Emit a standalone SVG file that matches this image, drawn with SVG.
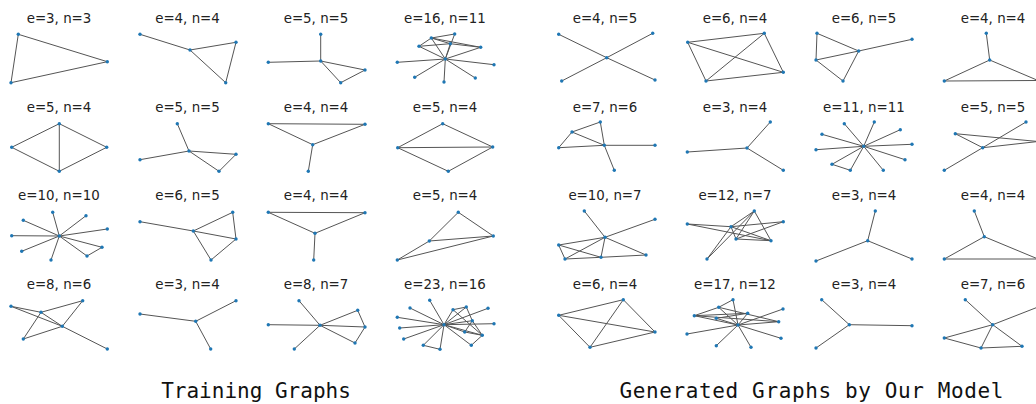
<svg xmlns="http://www.w3.org/2000/svg" width="1036" height="404" viewBox="0 0 1036 404">
<style>
.t{font-family:"DejaVu Sans",sans-serif;font-size:13.4px;fill:#222;text-anchor:middle}
.h{font-family:"DejaVu Sans Mono",monospace;font-size:21px;fill:#111;text-anchor:middle}
.e{fill:none;stroke:#555;stroke-width:1}
.n circle{fill:#1f77b4}
</style>
<rect width="1036" height="404" fill="#fff"/>

<g id="a1"><text class="t" x="59" y="23">e=3, n=3</text>
<g class="edges"><path class="e" d="M18.3,34.3L107.3,61.7M107.3,61.7L11,82.7M11,82.7L18.3,34.3"/></g>
<g class="n"><circle cx="18.3" cy="34.3" r="1.7"/><circle cx="107.3" cy="61.7" r="1.7"/><circle cx="11" cy="82.7" r="1.7"/></g></g>

<g id="a2"><text class="t" x="187.5" y="23">e=4, n=4</text>
<g class="edges"><path class="e" d="M140,34.3L190,50M190,50L236,42.3M236,42.3L225.7,82.7M190,50L225.7,82.7"/></g>
<g class="n"><circle cx="140" cy="34.3" r="1.7"/><circle cx="190" cy="50" r="1.7"/><circle cx="236" cy="42.3" r="1.7"/><circle cx="225.7" cy="82.7" r="1.7"/></g></g>

<g id="a3"><text class="t" x="316" y="23">e=5, n=5</text>
<g class="edges"><path class="e" d="M320.7,34.3L320.7,61M268.3,62.3L320.7,61M320.7,61L365,70M320.7,61L340.7,82.7M365,70L340.7,82.7"/></g>
<g class="n"><circle cx="320.7" cy="34.3" r="1.7"/><circle cx="320.7" cy="61" r="1.7"/><circle cx="268.3" cy="62.3" r="1.7"/><circle cx="365" cy="70" r="1.7"/><circle cx="340.7" cy="82.7" r="1.7"/></g></g>

<g id="a4"><text class="t" x="445" y="23">e=16, n=11</text>
<g class="edges"><path class="e" d="M431.3,38L454.7,34M431.3,38L419,46.3M419,46.3L450.3,43.7M431.3,38L450.3,43.7M431.3,38L480.7,47.3M450.3,43.7L480.7,47.3M454.7,34L445.3,59M431.3,38L445.3,59M419,46.3L445.3,59M450.3,43.7L445.3,59M445.3,59L480.7,47.3M445.3,59L397.3,62.3M445.3,59L494,64.7M445.3,59L414.7,77.3M445.3,59L444,82M445.3,59L475.3,78"/></g>
<g class="n"><circle cx="454.7" cy="34" r="1.7"/><circle cx="431.3" cy="38" r="1.7"/><circle cx="450.3" cy="43.7" r="1.7"/><circle cx="419" cy="46.3" r="1.7"/><circle cx="480.7" cy="47.3" r="1.7"/><circle cx="445.3" cy="59" r="1.7"/><circle cx="397.3" cy="62.3" r="1.7"/><circle cx="494" cy="64.7" r="1.7"/><circle cx="414.7" cy="77.3" r="1.7"/><circle cx="444" cy="82" r="1.7"/><circle cx="475.3" cy="78" r="1.7"/></g></g>

<g id="b1"><text class="t" x="605" y="23">e=4, n=5</text>
<g class="edges"><path class="e" d="M606.7,57.7L558.7,34.3M606.7,57.7L652.7,33.3M606.7,57.7L561.7,81M606.7,57.7L655,80"/></g>
<g class="n"><circle cx="606.7" cy="57.7" r="1.7"/><circle cx="558.7" cy="34.3" r="1.7"/><circle cx="652.7" cy="33.3" r="1.7"/><circle cx="561.7" cy="81" r="1.7"/><circle cx="655" cy="80" r="1.7"/></g></g>

<g id="b2"><text class="t" x="735" y="23">e=6, n=4</text>
<g class="edges"><path class="e" d="M687.7,42.3L764.3,33.3M687.7,42.3L706,81M687.7,42.3L783.3,72.3M764.3,33.3L706,81M764.3,33.3L783.3,72.3M706,81L783.3,72.3"/></g>
<g class="n"><circle cx="687.7" cy="42.3" r="1.7"/><circle cx="764.3" cy="33.3" r="1.7"/><circle cx="706" cy="81" r="1.7"/><circle cx="783.3" cy="72.3" r="1.7"/></g></g>

<g id="b3"><text class="t" x="864" y="23">e=6, n=5</text>
<g class="edges"><path class="e" d="M817,33.3L816,60M817,33.3L858.7,51M858.7,51L912,39.3M816,60L858.7,51M816,60L843,81M843,81L858.7,51"/></g>
<g class="n"><circle cx="817" cy="33.3" r="1.7"/><circle cx="858.7" cy="51" r="1.7"/><circle cx="912" cy="39.3" r="1.7"/><circle cx="816" cy="60" r="1.7"/><circle cx="843" cy="81" r="1.7"/></g></g>

<g id="b4"><text class="t" x="993" y="23">e=4, n=4</text>
<g class="edges"><path class="e" d="M986.3,33.3L989.7,60M989.7,60L944.3,81M989.7,60L1038,80.5M944.3,81L1038,80.5"/></g>
<g class="n"><circle cx="986.3" cy="33.3" r="1.7"/><circle cx="989.7" cy="60" r="1.7"/><circle cx="944.3" cy="81" r="1.7"/><circle cx="1038" cy="80.5" r="1.7"/></g></g>

<g id="a5"><text class="t" x="59" y="111.5">e=5, n=4</text>
<g class="edges"><path class="e" d="M59.3,123.7L11.7,147.3M59.3,123.7L106.7,147.3M11.7,147.3L59.3,171.3M106.7,147.3L59.3,171.3M59.3,123.7L59.3,171.3"/></g>
<g class="n"><circle cx="59.3" cy="123.7" r="1.7"/><circle cx="11.7" cy="147.3" r="1.7"/><circle cx="106.7" cy="147.3" r="1.7"/><circle cx="59.3" cy="171.3" r="1.7"/></g></g>

<g id="a6"><text class="t" x="187.5" y="111.5">e=5, n=5</text>
<g class="edges"><path class="e" d="M177.3,123.7L189,151M140,159.7L189,151M189,151L236,154.3M189,151L219,171.3M236,154.3L219,171.3"/></g>
<g class="n"><circle cx="177.3" cy="123.7" r="1.7"/><circle cx="189" cy="151" r="1.7"/><circle cx="140" cy="159.7" r="1.7"/><circle cx="236" cy="154.3" r="1.7"/><circle cx="219" cy="171.3" r="1.7"/></g></g>

<g id="a7"><text class="t" x="316" y="111.5">e=4, n=4</text>
<g class="edges"><path class="e" d="M268.3,123.7L365,124.3M268.3,123.7L312.7,144.7M365,124.3L312.7,144.7M312.7,144.7L308.3,171.3"/></g>
<g class="n"><circle cx="268.3" cy="123.7" r="1.7"/><circle cx="365" cy="124.3" r="1.7"/><circle cx="312.7" cy="144.7" r="1.7"/><circle cx="308.3" cy="171.3" r="1.7"/></g></g>

<g id="a8"><text class="t" x="445" y="111.5">e=5, n=4</text>
<g class="edges"><path class="e" d="M442.7,123.7L397.7,147.7M442.7,123.7L492.7,147M397.7,147.7L492.7,147M397.7,147.7L448.3,171.3M492.7,147L448.3,171.3"/></g>
<g class="n"><circle cx="442.7" cy="123.7" r="1.7"/><circle cx="397.7" cy="147.7" r="1.7"/><circle cx="492.7" cy="147" r="1.7"/><circle cx="448.3" cy="171.3" r="1.7"/></g></g>

<g id="b5"><text class="t" x="605" y="111.5">e=7, n=6</text>
<g class="edges"><path class="e" d="M572,132L600.3,122M572,132L558.7,147.7M572,132L604.3,145.3M600.3,122L604.3,145.3M558.7,147.7L604.3,145.3M604.3,145.3L655,145.3M604.3,145.3L614.3,170.3"/></g>
<g class="n"><circle cx="600.3" cy="122" r="1.7"/><circle cx="572" cy="132" r="1.7"/><circle cx="558.7" cy="147.7" r="1.7"/><circle cx="604.3" cy="145.3" r="1.7"/><circle cx="655" cy="145.3" r="1.7"/><circle cx="614.3" cy="170.3" r="1.7"/></g></g>

<g id="b6"><text class="t" x="735" y="111.5">e=3, n=4</text>
<g class="edges"><path class="e" d="M747,148L770.3,122M747,148L687.3,152M747,148L783.3,170.3"/></g>
<g class="n"><circle cx="747" cy="148" r="1.7"/><circle cx="770.3" cy="122" r="1.7"/><circle cx="687.3" cy="152" r="1.7"/><circle cx="783.3" cy="170.3" r="1.7"/></g></g>

<g id="b7"><text class="t" x="864" y="111.5">e=11, n=11</text>
<g class="edges"><path class="e" d="M863.7,146.3L844.3,123.7M863.7,146.3L874.3,122M863.7,146.3L822,134.3M863.7,146.3L900.3,129.7M863.7,146.3L816,149.7M863.7,146.3L912,144.3M863.7,146.3L832,164.3M863.7,146.3L850.3,170.3M863.7,146.3L883.3,170.3M863.7,146.3L905,159.7M832,164.3L850.3,170.3"/></g>
<g class="n"><circle cx="863.7" cy="146.3" r="1.7"/><circle cx="844.3" cy="123.7" r="1.7"/><circle cx="874.3" cy="122" r="1.7"/><circle cx="822" cy="134.3" r="1.7"/><circle cx="900.3" cy="129.7" r="1.7"/><circle cx="816" cy="149.7" r="1.7"/><circle cx="912" cy="144.3" r="1.7"/><circle cx="832" cy="164.3" r="1.7"/><circle cx="850.3" cy="170.3" r="1.7"/><circle cx="883.3" cy="170.3" r="1.7"/><circle cx="905" cy="159.7" r="1.7"/></g></g>

<g id="b8"><text class="t" x="993" y="111.5">e=5, n=5</text>
<g class="edges"><path class="e" d="M955.3,133.7L982.7,147.7M955.3,133.7L1038,141.5M982.7,147.7L1026,122M982.7,147.7L944.3,170.3M982.7,147.7L1038,141.5"/></g>
<g class="n"><circle cx="955.3" cy="133.7" r="1.7"/><circle cx="1026" cy="122" r="1.7"/><circle cx="982.7" cy="147.7" r="1.7"/><circle cx="944.3" cy="170.3" r="1.7"/><circle cx="1038" cy="141.5" r="1.7"/></g></g>

<g id="a9"><text class="t" x="59" y="200">e=10, n=10</text>
<g class="edges"><path class="e" d="M59.3,236L52.7,212.3M59.3,236L23.3,220.3M59.3,236L86,215.7M59.3,236L11.7,235.7M59.3,236L107.3,229M59.3,236L21.7,251.3M59.3,236L51,260M59.3,236L102,247.3M59.3,236L87,256M102,247.3L87,256"/></g>
<g class="n"><circle cx="59.3" cy="236" r="1.7"/><circle cx="52.7" cy="212.3" r="1.7"/><circle cx="23.3" cy="220.3" r="1.7"/><circle cx="86" cy="215.7" r="1.7"/><circle cx="11.7" cy="235.7" r="1.7"/><circle cx="107.3" cy="229" r="1.7"/><circle cx="21.7" cy="251.3" r="1.7"/><circle cx="51" cy="260" r="1.7"/><circle cx="102" cy="247.3" r="1.7"/><circle cx="87" cy="256" r="1.7"/></g></g>

<g id="a10"><text class="t" x="187.5" y="200">e=6, n=5</text>
<g class="edges"><path class="e" d="M140,221.7L193.3,231M193.3,231L232.7,212.3M232.7,212.3L236,239M193.3,231L236,239M193.3,231L211,260M211,260L236,239"/></g>
<g class="n"><circle cx="140" cy="221.7" r="1.7"/><circle cx="193.3" cy="231" r="1.7"/><circle cx="232.7" cy="212.3" r="1.7"/><circle cx="236" cy="239" r="1.7"/><circle cx="211" cy="260" r="1.7"/></g></g>

<g id="a11"><text class="t" x="316" y="200">e=4, n=4</text>
<g class="edges"><path class="e" d="M268.3,212.3L365,212.7M268.3,212.3L315,233.3M365,212.7L315,233.3M315,233.3L313.7,260"/></g>
<g class="n"><circle cx="268.3" cy="212.3" r="1.7"/><circle cx="365" cy="212.7" r="1.7"/><circle cx="315" cy="233.3" r="1.7"/><circle cx="313.7" cy="260" r="1.7"/></g></g>

<g id="a12"><text class="t" x="445" y="200">e=5, n=4</text>
<g class="edges"><path class="e" d="M458.3,212.3L429.3,241M458.3,212.3L493.3,236M429.3,241L493.3,236M429.3,241L397.3,260M397.3,260L493.3,236"/></g>
<g class="n"><circle cx="458.3" cy="212.3" r="1.7"/><circle cx="429.3" cy="241" r="1.7"/><circle cx="493.3" cy="236" r="1.7"/><circle cx="397.3" cy="260" r="1.7"/></g></g>

<g id="b9"><text class="t" x="605" y="200">e=10, n=7</text>
<g class="edges"><path class="e" d="M605,237.3L584.3,211M605,237.3L655,219.3M605,237.3L558.7,245M605,237.3L565,259M605,237.3L601,257.3M605,237.3L646,255M558.7,245L565,259M558.7,245L601,257.3M565,259L601,257.3M601,257.3L646,255"/></g>
<g class="n"><circle cx="584.3" cy="211" r="1.7"/><circle cx="655" cy="219.3" r="1.7"/><circle cx="605" cy="237.3" r="1.7"/><circle cx="558.7" cy="245" r="1.7"/><circle cx="565" cy="259" r="1.7"/><circle cx="601" cy="257.3" r="1.7"/><circle cx="646" cy="255" r="1.7"/></g></g>

<g id="b10"><text class="t" x="735" y="200">e=12, n=7</text>
<g class="edges"><path class="e" d="M687.3,224L731,226.7M731,226.7L783.3,221.7M687.3,224L771,240.7M731,226.7L754.3,211M754.3,211L736,239M754.3,211L771,240.7M731,226.7L736,239M731,226.7L771,240.7M736,239L783.3,221.7M736,239L771,240.7M707,259L731,226.7M707,259L754.3,211"/></g>
<g class="n"><circle cx="754.3" cy="211" r="1.7"/><circle cx="687.3" cy="224" r="1.7"/><circle cx="783.3" cy="221.7" r="1.7"/><circle cx="731" cy="226.7" r="1.7"/><circle cx="736" cy="239" r="1.7"/><circle cx="771" cy="240.7" r="1.7"/><circle cx="707" cy="259" r="1.7"/></g></g>

<g id="b11"><text class="t" x="864" y="200">e=3, n=4</text>
<g class="edges"><path class="e" d="M867.7,240.7L875.3,211M867.7,240.7L816,261M867.7,240.7L912,259"/></g>
<g class="n"><circle cx="867.7" cy="240.7" r="1.7"/><circle cx="875.3" cy="211" r="1.7"/><circle cx="816" cy="261" r="1.7"/><circle cx="912" cy="259" r="1.7"/></g></g>

<g id="b12"><text class="t" x="993" y="200">e=4, n=4</text>
<g class="edges"><path class="e" d="M974.3,211L984.3,236.7M984.3,236.7L944.3,259M984.3,236.7L1038,259M944.3,259L1038,259"/></g>
<g class="n"><circle cx="974.3" cy="211" r="1.7"/><circle cx="984.3" cy="236.7" r="1.7"/><circle cx="944.3" cy="259" r="1.7"/><circle cx="1038" cy="259" r="1.7"/></g></g>

<g id="a13"><text class="t" x="59" y="288.5">e=8, n=6</text>
<g class="edges"><path class="e" d="M11,306.3L41,312.3M11,306.3L62.3,326.3M41,312.3L82.7,300.7M41,312.3L62.3,326.3M41,312.3L23.3,339M82.7,300.7L62.3,326.3M23.3,339L62.3,326.3M62.3,326.3L107.3,349"/></g>
<g class="n"><circle cx="11" cy="306.3" r="1.7"/><circle cx="41" cy="312.3" r="1.7"/><circle cx="82.7" cy="300.7" r="1.7"/><circle cx="62.3" cy="326.3" r="1.7"/><circle cx="23.3" cy="339" r="1.7"/><circle cx="107.3" cy="349" r="1.7"/></g></g>

<g id="a14"><text class="t" x="187.5" y="288.5">e=3, n=4</text>
<g class="edges"><path class="e" d="M195.7,321.3L140,314M195.7,321.3L236,300.7M195.7,321.3L210.7,349"/></g>
<g class="n"><circle cx="195.7" cy="321.3" r="1.7"/><circle cx="140" cy="314" r="1.7"/><circle cx="236" cy="300.7" r="1.7"/><circle cx="210.7" cy="349" r="1.7"/></g></g>

<g id="a15"><text class="t" x="316" y="288.5">e=8, n=7</text>
<g class="edges"><path class="e" d="M320,325.3L299,300.7M320,325.3L268.3,324.7M320,325.3L357.7,310.3M320,325.3L365,327M320,325.3L355,343M320,325.3L294.3,349M357.7,310.3L365,327M365,327L355,343"/></g>
<g class="n"><circle cx="320" cy="325.3" r="1.7"/><circle cx="299" cy="300.7" r="1.7"/><circle cx="268.3" cy="324.7" r="1.7"/><circle cx="357.7" cy="310.3" r="1.7"/><circle cx="365" cy="327" r="1.7"/><circle cx="355" cy="343" r="1.7"/><circle cx="294.3" cy="349" r="1.7"/></g></g>

<g id="a16"><text class="t" x="445" y="288.5">e=23, n=16</text>
<g class="edges"><path class="e" d="M444,324.7L429.7,300.3M444,324.7L410,308M444,324.7L397.3,317.3M444,324.7L399.7,328M444,324.7L403.7,339M444,324.7L423.3,345.3M444,324.7L440,349.3M444,324.7L453,309.7M444,324.7L488,308.3M444,324.7L472.3,320.7M444,324.7L494,323.7M444,324.7L464.7,332M444,324.7L482.3,335.3M444,324.7L471.3,345.3M444,324.7L466.3,307M423.3,345.3L440,349.3M453,309.7L466.3,307M466.3,307L472.3,320.7M453,309.7L482.3,335.3M472.3,320.7L464.7,332M482.3,335.3L471.3,345.3M464.7,332L482.3,335.3M472.3,320.7L482.3,335.3"/></g>
<g class="n"><circle cx="444" cy="324.7" r="1.7"/><circle cx="429.7" cy="300.3" r="1.7"/><circle cx="410" cy="308" r="1.7"/><circle cx="397.3" cy="317.3" r="1.7"/><circle cx="399.7" cy="328" r="1.7"/><circle cx="403.7" cy="339" r="1.7"/><circle cx="423.3" cy="345.3" r="1.7"/><circle cx="440" cy="349.3" r="1.7"/><circle cx="453" cy="309.7" r="1.7"/><circle cx="466.3" cy="307" r="1.7"/><circle cx="488" cy="308.3" r="1.7"/><circle cx="472.3" cy="320.7" r="1.7"/><circle cx="494" cy="323.7" r="1.7"/><circle cx="464.7" cy="332" r="1.7"/><circle cx="482.3" cy="335.3" r="1.7"/><circle cx="471.3" cy="345.3" r="1.7"/></g></g>

<g id="b13"><text class="t" x="605" y="288.5">e=6, n=4</text>
<g class="edges"><path class="e" d="M623.3,299.7L558.7,315.3M623.3,299.7L655,332M623.3,299.7L590,347.3M558.7,315.3L655,332M558.7,315.3L590,347.3M655,332L590,347.3"/></g>
<g class="n"><circle cx="623.3" cy="299.7" r="1.7"/><circle cx="558.7" cy="315.3" r="1.7"/><circle cx="655" cy="332" r="1.7"/><circle cx="590" cy="347.3" r="1.7"/></g></g>

<g id="b14"><text class="t" x="735" y="288.5">e=17, n=12</text>
<g class="edges"><path class="e" d="M718.7,307.3L733,299.7M694.3,315.7L718.7,307.3M733,299.7L738,325M718.7,307.3L778.7,321.7M718.7,307.3L738,325M694.3,315.7L747.7,313.3M694.3,315.7L738,325M716.3,318.3L747.7,313.3M716.3,318.3L738,325M738,325L783,309M738,325L778.7,321.7M738,325L687,334M738,325L781,338.3M738,325L716.3,345.7M738,325L751,347.3M747.7,313.3L738,325M694.3,315.7L778.7,321.7"/></g>
<g class="n"><circle cx="733" cy="299.7" r="1.7"/><circle cx="718.7" cy="307.3" r="1.7"/><circle cx="747.7" cy="313.3" r="1.7"/><circle cx="694.3" cy="315.7" r="1.7"/><circle cx="783" cy="309" r="1.7"/><circle cx="716.3" cy="318.3" r="1.7"/><circle cx="778.7" cy="321.7" r="1.7"/><circle cx="738" cy="325" r="1.7"/><circle cx="687" cy="334" r="1.7"/><circle cx="781" cy="338.3" r="1.7"/><circle cx="716.3" cy="345.7" r="1.7"/><circle cx="751" cy="347.3" r="1.7"/></g></g>

<g id="b15"><text class="t" x="864" y="288.5">e=3, n=4</text>
<g class="edges"><path class="e" d="M849.3,324.7L821.7,299.7M849.3,324.7L912,325.7M849.3,324.7L816,348"/></g>
<g class="n"><circle cx="849.3" cy="324.7" r="1.7"/><circle cx="821.7" cy="299.7" r="1.7"/><circle cx="912" cy="325.7" r="1.7"/><circle cx="816" cy="348" r="1.7"/></g></g>

<g id="b16"><text class="t" x="993" y="288.5">e=7, n=6</text>
<g class="edges"><path class="e" d="M965.3,299.7L992.7,324.7M992.7,324.7L1038,307M992.7,324.7L944.3,338M992.7,324.7L981,348M992.7,324.7L1022,346.3M944.3,338L981,348M981,348L1022,346.3"/></g>
<g class="n"><circle cx="965.3" cy="299.7" r="1.7"/><circle cx="992.7" cy="324.7" r="1.7"/><circle cx="944.3" cy="338" r="1.7"/><circle cx="981" cy="348" r="1.7"/><circle cx="1022" cy="346.3" r="1.7"/><circle cx="1038" cy="307" r="1.7"/></g></g>

<text class="h" x="256" y="398">Training Graphs</text>
<text class="h" x="811.5" y="398" textLength="384" lengthAdjust="spacing">Generated Graphs by Our Model</text>
</svg>
